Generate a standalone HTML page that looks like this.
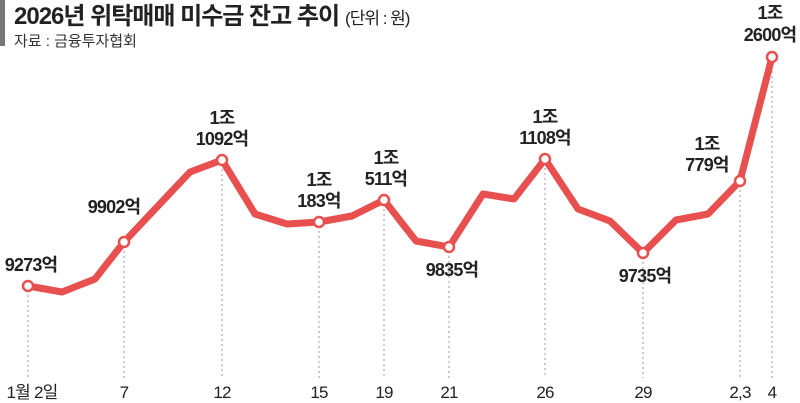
<!DOCTYPE html>
<html><head><meta charset="utf-8"><style>
body{margin:0;background:#fff;}
svg{display:block;font-family:"Liberation Sans","Noto Sans CJK KR",sans-serif;}
.v{font-size:18px;font-weight:bold;fill:#222;text-anchor:middle;letter-spacing:-0.8px}
.x{font-size:17px;fill:#222;text-anchor:middle;letter-spacing:-0.8px}
</style></head><body>
<svg width="800" height="403" viewBox="0 0 800 403">
<rect x="0" y="0" width="5" height="46" fill="#777"/>
<text x="14" y="24" font-size="24" font-weight="bold" fill="#222" letter-spacing="-1">2026년 위탁매매 미수금 잔고 추이<tspan font-size="17" font-weight="normal" dx="6">(단위 : 원)</tspan></text>
<text x="14" y="46" font-size="15" fill="#333">자료 : 금융투자협회</text>
<g stroke="#999" stroke-width="1" stroke-dasharray="2,3">
<line x1="28" y1="290" x2="28" y2="378"/>
<line x1="124" y1="246" x2="124" y2="378"/>
<line x1="222" y1="164" x2="222" y2="378"/>
<line x1="319" y1="226" x2="319" y2="378"/>
<line x1="384" y1="204" x2="384" y2="378"/>
<line x1="449" y1="251" x2="449" y2="378"/>
<line x1="545" y1="163" x2="545" y2="378"/>
<line x1="643" y1="257" x2="643" y2="378"/>
<line x1="740" y1="185" x2="740" y2="378"/>
<line x1="772" y1="61" x2="772" y2="378"/>
</g>
<polyline fill="none" stroke="#e8504f" stroke-width="7" stroke-linejoin="round" stroke-linecap="round"
points="28,286 62,292 95,279 124,242 157,207 190,172 222,160 255,214 287,224 319,222 352,216 384,200 416,241 449,247 483,194 514,199 545,159 578,209 610,221 643,253 676,220 708,214 740,181 772,57"/>
<g fill="#fff" stroke="#e8504f" stroke-width="2.5">
<circle cx="28" cy="286" r="5"/><circle cx="124" cy="242" r="5"/><circle cx="222" cy="160" r="5"/>
<circle cx="319" cy="222" r="5"/><circle cx="384" cy="200" r="5"/><circle cx="449" cy="247" r="5"/>
<circle cx="545" cy="159" r="5"/><circle cx="643" cy="253" r="5"/><circle cx="740" cy="181" r="5"/>
<circle cx="772" cy="57" r="5"/>
</g>
<text class="v" x="31" y="271">9273억</text>
<text class="v" x="114" y="213">9902억</text>
<text class="v" x="222" y="124">1조</text><text class="v" x="222" y="145">1092억</text>
<text class="v" x="319" y="186">1조</text><text class="v" x="319" y="207">183억</text>
<text class="v" x="386" y="164">1조</text><text class="v" x="386" y="185">511억</text>
<text class="v" x="452" y="276">9835억</text>
<text class="v" x="545" y="123">1조</text><text class="v" x="545" y="144">1108억</text>
<text class="v" x="645" y="282">9735억</text>
<text class="v" x="707" y="150">1조</text><text class="v" x="707" y="171">779억</text>
<text class="v" x="770" y="19">1조</text><text class="v" x="770" y="41">2600억</text>
<text class="x" x="32" y="398">1월 2일</text>
<text class="x" x="124" y="398">7</text>
<text class="x" x="222" y="398">12</text>
<text class="x" x="319" y="398">15</text>
<text class="x" x="384" y="398">19</text>
<text class="x" x="449" y="398">21</text>
<text class="x" x="545" y="398">26</text>
<text class="x" x="643" y="398">29</text>
<text class="x" x="740" y="398">2,3</text>
<text class="x" x="772" y="398">4</text>
</svg>
</body></html>
